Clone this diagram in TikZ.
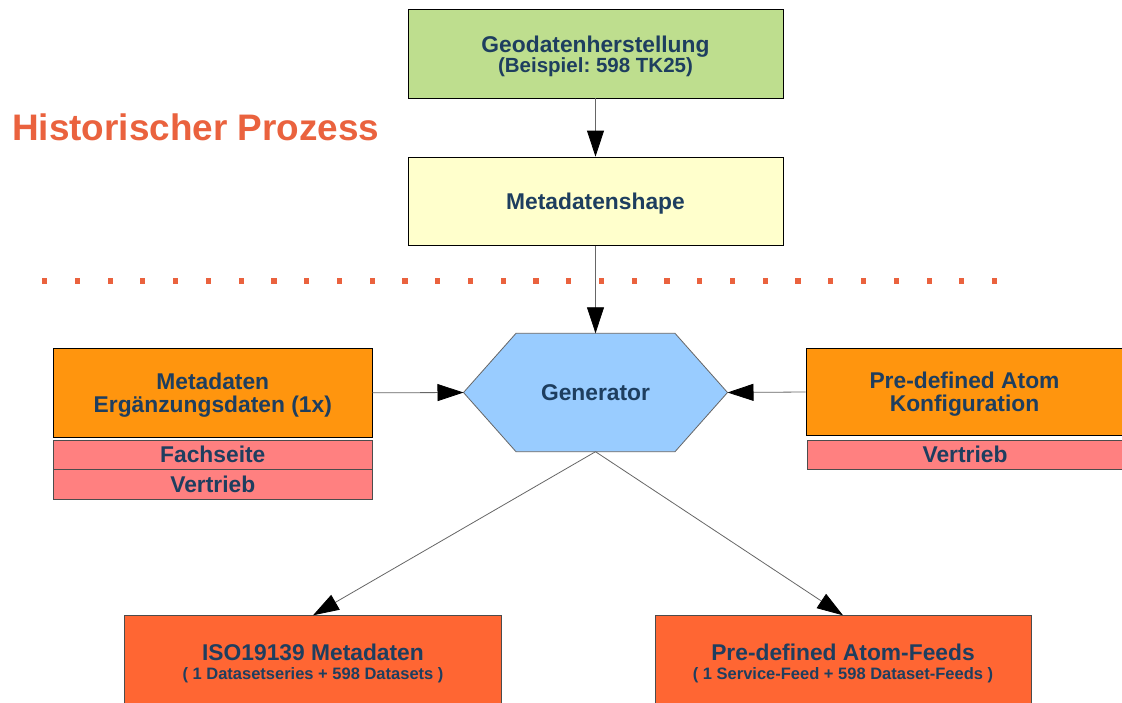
\documentclass[tikz,border=0pt]{standalone}
\usepackage{fontspec}
\setmainfont{Liberation Sans}
\frenchspacing
\usetikzlibrary{arrows.meta}
\definecolor{txt}{HTML}{1E3E5F}
\definecolor{ctitle}{HTML}{EA623E}
\definecolor{cgreen}{HTML}{BEDE8E}
\definecolor{cyellow}{HTML}{FFFFCC}
\definecolor{corange}{HTML}{FF950E}
\definecolor{cpink}{HTML}{FF8080}
\definecolor{cblue}{HTML}{99CCFF}
\definecolor{cred}{HTML}{FF6633}
\definecolor{cline}{HTML}{666666}
\begin{document}
\begin{tikzpicture}[x=1pt,y=-1pt,
  box/.style={draw=black, line width=0.8pt, text=txt, align=center, inner sep=0pt, text depth=0pt,
    font=\bfseries\fontsize{22.8}{23.5}\selectfont},
  subbox/.style={box, draw=black!70, fill=cpink},
  conn/.style={draw=cline, line width=0.8pt, -{Triangle[length=26pt,width=17pt,color=black]}}]
\clip (0,0) rectangle (1122,702);
\fill[white] (0,0) rectangle (1122,702);

% title
\node[anchor=base west, text=ctitle, inner sep=0pt, font=\bfseries\fontsize{36.9}{40}\selectfont] (title) at (12,140) {Historischer Prozess};

% dotted separator
\foreach \i in {0,...,29}
  \fill[ctitle] ({44.6+32.76*\i-2.6},278.4) rectangle ++(5.2,5.2);

% top boxes
\node[box, fill=cgreen, minimum width=375pt, minimum height=88.5pt, font=\bfseries\fontsize{22.8}{20}\selectfont] (geo) at (595.5,53.75)
  {Geodatenherstellung\\{\fontsize{20.5}{20}\selectfont (Beispiel: 598 TK25)}};
\node[box, fill=cyellow, minimum width=375pt, minimum height=88.5pt] (meta) at (595.5,201.25) {Metadatenshape};

% generator hexagon
\coordinate (genL) at (463.5,392.5);
\coordinate (genR) at (727.5,392.5);
\coordinate (genT) at (595.5,333.3);
\coordinate (genB) at (595.5,451.7);
\draw[fill=cblue, draw=cline, line width=0.8pt] (genL) -- (516,333.3) -- (675,333.3) -- (genR) -- (675,451.7) -- (516,451.7) -- cycle;
\node[text=txt, font=\bfseries\fontsize{22.8}{23.5}\selectfont, inner sep=0pt] (gen) at (595.5,392.5) {Generator};

% left input
\node[box, fill=corange, minimum width=318.4pt, minimum height=89pt] (erg) at (212.8,392.8) {Metadaten\\Ergänzungsdaten (1x)};
\node[subbox, minimum width=318.4pt, minimum height=29pt] (fach) at (212.8,454.5) {Fachseite};
\node[subbox, minimum width=318.4pt, minimum height=30pt] (vertL) at (212.8,484) {Vertrieb};

% right input
\node[box, fill=corange, minimum width=317pt, minimum height=87.4pt, font=\bfseries\fontsize{22.8}{22.7}\selectfont] (pre) at (964.5,392) {Pre-defined Atom\\Konfiguration};
\node[subbox, minimum width=316pt, minimum height=29.3pt] (vertR) at (965,454.7) {Vertrieb};

% outputs
\node[box, draw=black!70, fill=cred, minimum width=377pt, minimum height=92.3pt, font=\bfseries\fontsize{22.8}{18.5}\selectfont] (iso) at (313,661.85)
  {ISO19139 Metadaten\\{\fontsize{16.5}{18.5}\selectfont ( 1 Datasetseries + 598 Datasets )}};
\node[box, draw=black!70, fill=cred, minimum width=376pt, minimum height=92.3pt, font=\bfseries\fontsize{22.8}{18.5}\selectfont] (atom) at (843,661.85)
  {Pre-defined Atom-Feeds\\{\fontsize{16.5}{18.5}\selectfont ( 1 Service-Feed + 598 Dataset-Feeds )}};

% connectors
\draw[conn] (geo.south) -- (meta.north);
\draw[conn] (meta.south) -- (genT);
\draw[conn] (erg.east) -- (genL);
\draw[conn] (pre.west) -- (genR);
\draw[conn] (genB) -- (iso.north);
\draw[conn] (genB) -- (atom.north);
\end{tikzpicture}
\end{document}
